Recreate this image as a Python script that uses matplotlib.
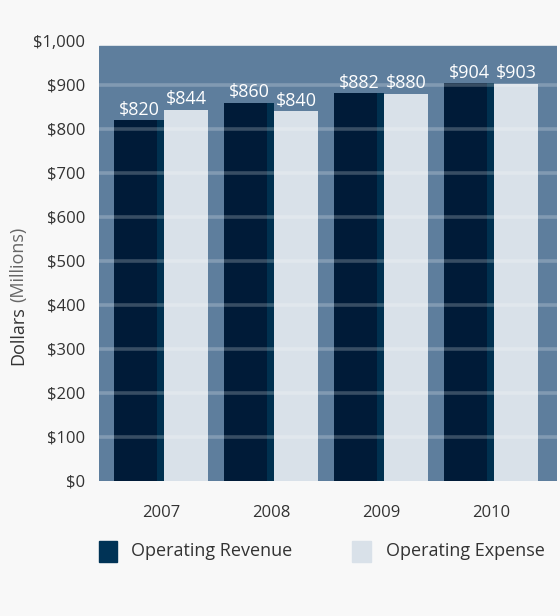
import matplotlib
matplotlib.use("Agg")
import matplotlib.pyplot as plt
import numpy as np
from matplotlib.patches import Rectangle

plt.rcParams['font.family'] = ['Open Sans', 'DejaVu Sans']

years = ["2007", "2008", "2009", "2010"]
revenue = [820, 860, 882, 904]
expense = [844, 840, 880, 903]
yticks = [0, 100, 200, 300, 400, 500, 600, 700, 800, 900, 1000]
ytick_labels = ["$0", "$100", "$200", "$300", "$400", "$500", "$600",
                "$700", "$800", "$900", "$1,000"]

bg = "#f8f8f8"
plot_bg = "#5e7e9d"
rev_col = "#001b38"
rev_edge = "#00304f"
exp_col = "#d9e1e9"
txt = "#333333"

fig = plt.figure(figsize=(5.6, 6.16), dpi=100, facecolor=bg)
ax = fig.add_axes([99 / 560, 1 - 481 / 616, 458 / 560, 440 / 616])
ax.set_facecolor("none")

x = np.arange(len(years))
ax.set_xlim(-0.564, 3.6)
ax.set_ylim(0, 1000)

# blue background stops just under the $1,000 tick
ax.axhspan(0, 988, color=plot_bg, zorder=0)

ax.bar(x - 0.2, revenue, width=0.455, color=rev_col, zorder=2)
# slightly bluer strip on the right side of the revenue bars
ax.bar(x - 0.2 + 0.2275 - 0.03, revenue, width=0.06, color=rev_edge, zorder=2)
ax.bar(x + 0.227, expense, width=0.4, color=exp_col, zorder=2)

for yv in yticks[1:-1]:
    ax.axhline(yv, color="white", alpha=0.22, lw=2.6, zorder=3)

for i in range(len(years)):
    ax.text(x[i] - 0.2, revenue[i] + 3, f"${revenue[i]}", ha="center", va="bottom",
            color="white", fontsize=13, zorder=4)
    ax.text(x[i] + 0.227, expense[i] + 3, f"${expense[i]}", ha="center", va="bottom",
            color="white", fontsize=13, zorder=4)

ax.set_yticks(yticks)
ax.set_yticklabels(ytick_labels)
ax.set_xticks(x)
ax.set_xticklabels(years)
ax.tick_params(axis="y", length=0, pad=10, labelsize=12, labelcolor=txt)
ax.tick_params(axis="x", length=0, pad=17, labelsize=12, labelcolor=txt)
for s in ax.spines.values():
    s.set_visible(False)

# y label in two tones
fig.text(18 / 560, 1 - 365 / 616, "Dollars", rotation=90, ha="center", va="bottom",
         fontsize=13, color=txt)
fig.text(18 / 560, 1 - 302 / 616, "(Millions)", rotation=90, ha="center", va="bottom",
         fontsize=13, color="#666666")

# legend
fig.patches.append(Rectangle((99 / 560, 1 - 562 / 616), 18 / 560, 21 / 616,
                             transform=fig.transFigure, color="#003356"))
fig.text(131 / 560, 1 - 551 / 616, "Operating Revenue", ha="left", va="center",
         fontsize=13, color=txt)
fig.patches.append(Rectangle((352 / 560, 1 - 562 / 616), 19 / 560, 21 / 616,
                             transform=fig.transFigure, color=exp_col))
fig.text(386 / 560, 1 - 551 / 616, "Operating Expense", ha="left", va="center",
         fontsize=13, color=txt)

fig.savefig("out.png", dpi=100, facecolor=bg)
